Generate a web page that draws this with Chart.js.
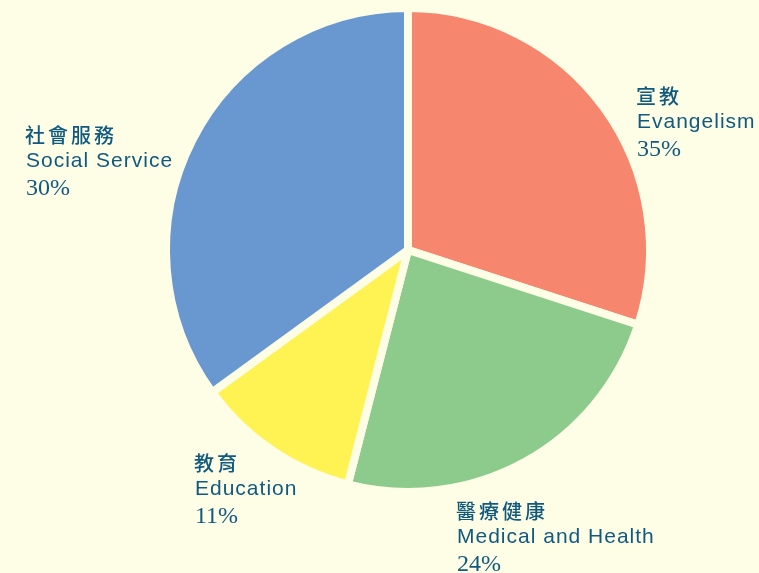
<!DOCTYPE html>
<html>
<head>
<meta charset="utf-8">
<script src="https://cdn.jsdelivr.net/npm/chart.js@4.4.1/dist/chart.umd.min.js"></script>
<style>
  html, body { margin: 0; padding: 0; background: #fefde5; }
  #wrap { width: 759px; height: 573px; }
</style>
</head>
<body>
<div id="wrap"><canvas id="pieChart" width="759" height="573"></canvas></div>
<script>
// slice order: clockwise from 12 o'clock
const namesZh = ['宣教', '醫療健康', '教育', '社會服務'];
const namesEn = ['Evangelism', 'Medical and Health', 'Education', 'Social Service'];
const pctLabels = ['35%', '24%', '11%', '30%'];
const sliceValues = [30, 24, 11, 35];
const sliceColors = ['#f6876e', '#8ccb8b', '#fef352', '#6998d0'];

// top-left x and baselines of each label block
const labelX = [636, 456, 194, 25];
const labelY = [104, 519, 471, 143];

const bg = '#fefde5';
const textColor = '#105a80';

const labelPlugin = {
    id: 'labels',
    afterDraw(chart) {
        const ctx = chart.ctx;
        ctx.save();
        ctx.fillStyle = textColor;
        ctx.textBaseline = 'alphabetic';
        ctx.textAlign = 'left';
        namesZh.forEach((zh, i) => {
            const x = labelX[i], y = labelY[i];
            ctx.font = '500 20px "Noto Sans CJK TC"';
            ctx.letterSpacing = '3px';
            ctx.fillText(zh, x, y);
            ctx.font = '21px "Liberation Sans", Arial';
            ctx.letterSpacing = '1px';
            ctx.fillText(namesEn[i], x + 1, y + 24);
            ctx.font = '24px "Liberation Serif", "Times New Roman"';
            ctx.letterSpacing = '0px';
            ctx.fillText(pctLabels[i], x + 1, y + 52);
        });
        ctx.restore();
    }
};

document.addEventListener('DOMContentLoaded', function() {
    const ctx = document.getElementById('pieChart').getContext('2d');
    new Chart(ctx, {
        type: 'pie',
        data: {
            labels: namesEn,
            datasets: [{
                data: sliceValues,
                backgroundColor: sliceColors,
                borderColor: bg,
                borderWidth: 8,
                hoverOffset: 0
            }]
        },
        options: {
            responsive: false,
            animation: false,
            radius: 242,
            layout: { padding: { left: 57, right: 0, top: 0, bottom: 73 } },
            plugins: {
                legend: { display: false },
                tooltip: { enabled: false }
            }
        },
        plugins: [labelPlugin]
    });
});
</script>
</body>
</html>
